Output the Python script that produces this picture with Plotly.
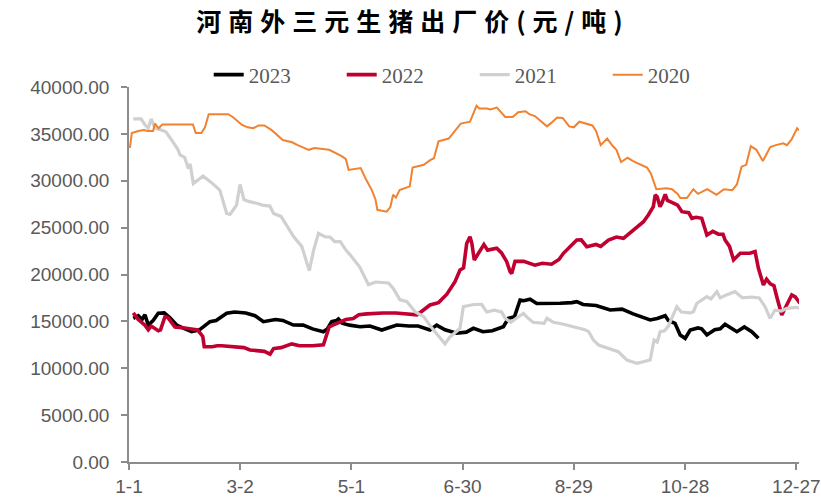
import plotly.graph_objects as go

# Day-of-year positions (0 = Jan 1) and prices in yuan/ton for each year
days_2023 = [2.3, 5, 7, 8.6, 10.4, 13, 15.8, 19, 22, 25.7, 29, 33.8, 38, 43.7, 47, 52.7, 57, 63, 68,
             72.5, 79, 83, 88.7, 94, 99, 104.9, 107, 109.4, 112, 113, 115, 119, 124.7, 130, 136.4,
             140.5, 144.5, 151, 156, 162.4, 166, 170.5, 176.8, 182, 185.8, 191, 196, 202, 204.7,
             208, 211, 213, 216.4, 220, 225, 232.6, 239, 241.6, 245, 252, 259.6, 266, 272, 281.2,
             285, 289.3, 291, 294.6, 297.4, 300.1, 302.8, 307, 309, 311.8, 316, 319, 321.6, 325,
             328, 332, 336, 339.6]
price_2023 = [15330, 15600, 15200, 15700, 14610, 15100, 15860, 15900, 15400, 14610, 14300, 13900,
              14100, 14970, 15100, 15860, 16000, 15900, 15600, 14970, 15200, 15100, 14610, 14600,
              14200, 13900, 14200, 14970, 15100, 15250, 14800, 14600, 14430, 14500, 14080, 14300,
              14610, 14500, 14500, 14080, 14600, 14100, 13730, 13850, 14260, 13900, 14000, 14430,
              15330, 15500, 17280, 17200, 17360, 16900, 16900, 16930, 17000, 17100, 16800, 16700,
              16210, 16300, 15800, 15150, 15300, 15600, 15100, 14790, 13550, 13190, 14080, 14300,
              14200, 13550, 14100, 14200, 14690, 14300, 13900, 14400, 13900, 13190]

days_2022 = [2.3, 5, 8.6, 10.4, 12, 15.8, 17, 19.4, 21, 24.8, 30, 37, 39.8, 40.6, 45, 47.5, 50, 58,
             62, 65.3, 70, 73, 76.1, 78, 82, 87.8, 92, 99, 104.9, 106.5, 108, 110, 115, 117, 121,
             124, 128.3, 133, 137.1, 144, 150, 155.3, 157.5, 162.4, 167, 171.5, 175.9, 178.6,
             180.5, 182.2, 184, 185, 186.3, 189, 191.5, 193.5, 196, 198.4, 201, 203.8, 205.6,
             206.5, 208.3, 213, 219, 223, 228, 232, 234.4, 237, 241.6, 244, 247, 252, 254.5,
             258.7, 263, 266.8, 270, 274, 277.6, 280.2, 282.9, 283.9, 285, 286.5, 287.5, 289.3,
             290.5, 292, 296, 298.3, 302, 303.7, 306, 309, 311.8, 315, 318, 320.5, 321.6, 324,
             326.2, 329.8, 335, 337.8, 339.6, 342.3, 344, 346, 348, 349.5, 351.3, 352.2, 355,
             357.6, 359.5, 360.5, 362]
price_2022 = [15900, 15200, 14600, 14100, 14500, 14000, 14100, 15500, 15400, 14400, 14300, 14100,
              13400, 12300, 12300, 12400, 12400, 12300, 12200, 11950, 11900, 11800, 11500, 12100,
              12200, 12600, 12400, 12400, 12500, 13550, 14400, 14600, 15100, 15200, 15300, 15700,
              15800, 15900, 15900, 15900, 15800, 15700, 16000, 16750, 17000, 17900, 19230, 20480,
              20700, 23300, 24030, 23300, 21550, 22400, 23200, 22600, 22700, 22800, 22300, 21370,
              20300, 20100, 21400, 21400, 21000, 21200, 21100, 21600, 22260, 22800, 23680, 23700,
              22970, 23200, 23000, 23680, 24000, 23860, 24400, 25100, 25630, 26350, 27230, 28480,
              28300, 27230, 27600, 28550, 27900, 27770, 27400, 26700, 26600, 25990, 26100, 26000,
              24210, 24600, 24300, 24300, 23680, 23000, 21550, 22260, 22260, 22440, 20660, 18880,
              19500, 19000, 18800, 17630, 16210, 15680, 16800, 17810, 17600, 17300, 16930]

days_2021 = [2.3, 6.5, 8.5, 10.4, 12, 14, 17.6, 20, 23, 26.5, 27.5, 30, 32, 33, 34.7, 40, 44.5, 49,
             52.7, 54.5, 58, 59.9, 62, 64.5, 68.9, 72, 76, 78, 82, 85, 89, 93.2, 97.3, 99.5,
             102.2, 106, 108.5, 111, 114, 117, 119.3, 124.5, 127, 129.2, 133, 140, 142.6, 146.2,
             150, 154.5, 159, 163, 168, 170.5, 173, 178.6, 180.4, 186, 190.3, 193, 197, 201, 203,
             206, 212.8, 215, 218, 224, 225.5, 229, 234.5, 240, 246, 248, 250.6, 253.3, 256, 258,
             264, 268.6, 274, 281.2, 283.3, 285, 286.6, 289, 291, 295.6, 298, 303, 304.5, 306.4,
             311.8, 314, 317.2, 319, 322, 327, 331, 336, 340, 343.2, 345.9, 348.5, 352, 355, 360,
             362]
price_2021 = [36600, 36600, 36000, 35600, 36600, 35600, 35400, 35200, 34350, 33300, 32750, 32500,
              31300, 31800, 29700, 30500, 29800, 29000, 26500, 26400, 27400, 29600, 28000, 27800,
              27600, 27400, 27300, 26500, 26200, 25300, 24000, 23000, 20400, 22500, 24400, 24000,
              24000, 23500, 23500, 22600, 22100, 20800, 19800, 18900, 19200, 19100, 18500, 17300,
              17100, 16000, 15500, 14400, 13200, 12600, 13300, 14260, 16570, 16800, 16820, 16000,
              16200, 16000, 15330, 14900, 15860, 15400, 14900, 14800, 15330, 14900, 14700, 14400,
              14100, 13900, 13000, 12480, 12300, 12200, 11770, 10880, 10530, 10880, 13010, 12800,
              13900, 14000, 14500, 16570, 16000, 15900, 16030, 16930, 17630, 17400, 18170, 17500,
              17800, 18170, 17500, 17600, 17500, 16570, 15330, 16200, 16100, 16390, 16500, 16390]

days_2020 = [0.5, 1.5, 5, 8, 10, 13, 14, 16, 18, 34.5, 36, 39, 41, 43, 53.5, 56, 61, 64, 67, 70,
             73, 77, 83, 88, 91, 97, 100, 108, 115, 117, 118.5, 125, 128, 131, 133, 134, 139,
             141, 142.5, 144, 146, 151.5, 153, 159, 162.5, 164.5, 167, 172.5, 179, 184, 187.5,
             189, 193, 195, 198.5, 203, 207, 210, 214, 216, 219, 225.5, 228, 231, 234, 237.5,
             240, 243, 250, 252, 254.5, 258, 261, 263, 265.5, 269, 272, 279.5, 281.5, 284.5,
             290, 293, 296, 297.5, 301, 304.5, 307, 312, 317, 321, 325.5, 328, 330.5, 333,
             335.5, 338.5, 342, 346, 349, 353, 355, 357.5, 360.5, 362]
price_2020 = [33500, 35100, 35300, 35400, 35300, 35300, 36100, 35600, 36000, 36000, 35100, 35100,
              35700, 37100, 37100, 36800, 35950, 35700, 35600, 35900, 35900, 35400, 34350, 34100,
              33800, 33300, 33500, 33300, 32600, 32300, 31150, 31350, 30100, 29000, 28000, 26900,
              26700, 27200, 28500, 28200, 29000, 29400, 31400, 31700, 32200, 32400, 34200, 34500,
              36100, 36300, 38000, 37700, 37700, 37600, 37800, 36800, 36800, 37300, 37400, 37100,
              36900, 35800, 36200, 36750, 36700, 35800, 35700, 36300, 35900, 35300, 33800, 34500,
              33700, 33300, 32000, 32450, 32100, 31400, 30800, 29100, 29200, 29100, 28600, 28150,
              28150, 29100, 28600, 29100, 28500, 29100, 29000, 29600, 31500, 31700, 33700, 33300,
              32100, 33600, 33800, 34000, 33800, 34400, 35600, 35300]

tick_days = [0, 60, 120, 180, 240, 300, 360]
tick_labels = ["1-1", "3-2", "5-1", "6-30", "8-29", "10-28", "12-27"]
y_ticks = list(range(0, 40001, 5000))

series = [
    ("2023", days_2023, price_2023, "#000000", 3.6),
    ("2022", days_2022, price_2022, "#C00030", 3.6),
    ("2021", days_2021, price_2021, "#D0D0D0", 3.2),
    ("2020", days_2020, price_2020, "#F08232", 2.0),
]

fig = go.Figure()
for name, xs, ys, color, width in series:
    fig.add_trace(go.Scatter(
        x=xs, y=ys, mode="lines", name=name,
        line=dict(color=color, width=width),
    ))

axis_color = "#8C8C8C"
tick_font = dict(family="Liberation Sans, Arial, sans-serif", size=19, color="#595959")

fig.update_layout(
    width=821, height=497,
    margin=dict(l=129, r=22, t=87, b=35, autoexpand=False),
    paper_bgcolor="white", plot_bgcolor="white",
    title=dict(
        text='<span style="letter-spacing:7px">河南外三元生猪出厂价(元/吨)</span>',
        x=0.503, xanchor="center", y=0.955, yanchor="middle",
        font=dict(family="Noto Sans CJK SC", size=25, color="#000000", weight="bold"),
    ),
    legend=dict(
        orientation="h", x=0.516, xanchor="center", y=1.032, yanchor="middle",
        font=dict(family="Liberation Serif, Times New Roman, serif", size=21, color="#595959"),
        entrywidth=88, bgcolor="rgba(0,0,0,0)", traceorder="normal",
    ),
    showlegend=True,
)

fig.update_xaxes(
    range=[0, 361.5], tickmode="array", tickvals=tick_days, ticktext=tick_labels,
    showgrid=False, zeroline=False, showline=True, linecolor=axis_color, linewidth=1.5,
    ticks="outside", ticklen=6, tickcolor=axis_color, tickwidth=1.5, tickfont=tick_font,
    automargin=False,
)
fig.update_yaxes(
    range=[0, 40000], tickmode="array", tickvals=y_ticks,
    ticktext=[f"{v:.2f}" for v in y_ticks],
    showgrid=False, zeroline=False, showline=True, linecolor=axis_color, linewidth=1.5,
    ticks="outside", ticklen=6, tickcolor=axis_color, tickwidth=1.5, tickfont=tick_font,
    ticklabelstandoff=8, automargin=False,
)

fig.write_html("out.html")
